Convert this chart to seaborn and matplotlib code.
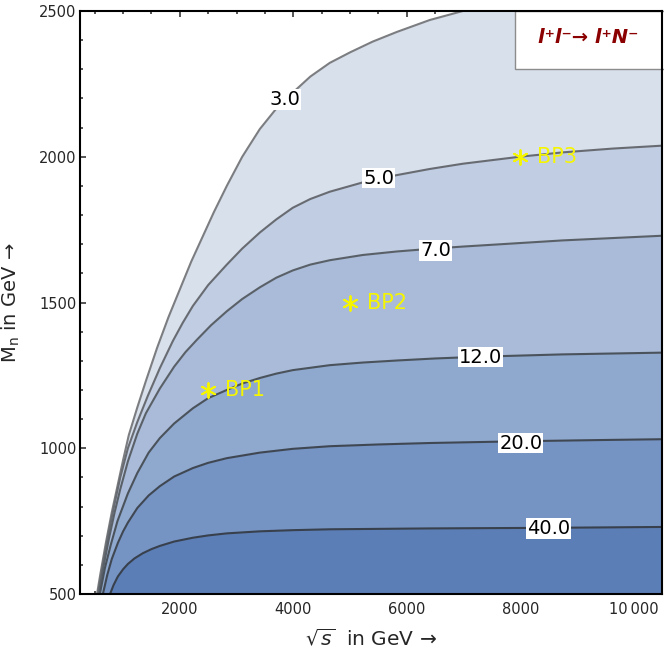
import matplotlib
matplotlib.use("Agg")
import matplotlib.pyplot as plt
from matplotlib.patches import Rectangle
from matplotlib.ticker import MultipleLocator, FixedLocator
import seaborn as sns

# contour levels and the curves (sqrt(s), M_n in GeV)
levels = [3.0, 5.0, 7.0, 12.0, 20.0, 40.0]

sqrt_s_3 = [540, 600, 700, 800, 900, 1000, 1100, 1250, 1400, 1600, 1800, 2000, 2200, 2400, 2600,
            2828, 3100, 3410, 3700, 3991, 4300, 4643, 5000, 5400, 5824, 6405, 6934, 8000, 10500]
mn_3 = [500, 570, 680, 780, 870, 960, 1045, 1140, 1230, 1345, 1450, 1545, 1640, 1725, 1810,
        1900, 2000, 2095, 2165, 2220, 2275, 2322, 2358, 2395, 2428, 2469, 2497, 2555, 2640]

sqrt_s_5 = [555, 650, 750, 850, 950, 1084, 1250, 1436, 1648, 1877, 2050, 2229, 2500, 2828, 3100,
            3410, 3700, 3991, 4300, 4643, 5225, 5824, 6405, 6987, 7991, 8749, 9630, 10500]
mn_5 = [500, 610, 715, 810, 900, 1000, 1090, 1180, 1275, 1368, 1430, 1488, 1560, 1630, 1685,
        1740, 1785, 1825, 1855, 1880, 1912, 1937, 1958, 1976, 2000, 2015, 2028, 2038]

sqrt_s_7 = [573, 650, 750, 850, 950, 1084, 1250, 1401, 1648, 1900, 2100, 2300, 2550, 2828, 3100,
            3410, 3700, 3991, 4300, 4643, 5225, 5824, 6405, 7000, 7586, 8749, 10500]
mn_7 = [500, 590, 690, 780, 860, 955, 1050, 1120, 1205, 1280, 1330, 1372, 1422, 1470, 1512,
        1552, 1585, 1610, 1630, 1645, 1663, 1675, 1684, 1692, 1699, 1713, 1729]

sqrt_s_12 = [590, 680, 784, 900, 1084, 1250, 1450, 1648, 1900, 2229, 2500, 2828, 3100, 3410,
             3700, 3991, 4643, 5224, 5824, 6500, 7286, 8749, 10500]
mn_12 = [500, 590, 670, 750, 845, 915, 985, 1035, 1085, 1137, 1172, 1200, 1222, 1241,
         1256, 1268, 1285, 1294, 1301, 1308, 1314, 1322, 1328]

sqrt_s_20 = [643, 720, 800, 907, 1000, 1084, 1250, 1450, 1648, 1900, 2229, 2500, 2828, 3410,
             3991, 4643, 5500, 6405, 7991, 9348, 10500]
mn_20 = [500, 565, 620, 675, 715, 745, 795, 838, 870, 903, 932, 950, 966, 985,
         998, 1007, 1013, 1018, 1024, 1028, 1031]

sqrt_s_40 = [770, 830, 907, 1000, 1084, 1200, 1348, 1500, 1648, 1900, 2229, 2500, 2828, 3410,
             3991, 4643, 6405, 8467, 10500]
mn_40 = [500, 530, 560, 585, 603, 622, 640, 654, 665, 680, 693, 701, 708, 715,
         719, 722, 725, 727, 730]

# where the contour labels sit
label_x = [3850, 5507, 6511, 7304, 8009, 8502]
label_y = [2195, 1927, 1680, 1313, 1018, 726]

# benchmark points
bp_names = ["BP1", "BP2", "BP3"]
bp_x = [2500, 5000, 8000]
bp_y = [1200, 1500, 2000]

x_ticks = [2000, 4000, 6000, 8000, 10000]
x_tick_labels = ["2000", "4000", "6000", "8000", "10\u2009000"]
y_ticks = [500, 1000, 1500, 2000, 2500]

band_colors = ["#d8e0ec", "#c0cde2", "#a9bbd8", "#8fa8cd", "#7593c3", "#5c7eb6"]
line_colors = ["#7b7d80", "#686c72", "#5a6068", "#4a525c", "#3f4753", "#37404c"]

sns.set_style("ticks")
plt.rcParams['font.family'] = ['DejaVu Sans']

fig = plt.figure(figsize=(6.64, 6.62), dpi=100)
ax = fig.add_axes([0.1205, 0.1027, 0.8765, 0.8807])

curves = [(sqrt_s_3, mn_3), (sqrt_s_5, mn_5), (sqrt_s_7, mn_7),
          (sqrt_s_12, mn_12), (sqrt_s_20, mn_20), (sqrt_s_40, mn_40)]

for (xs, ys), fc in zip(curves, band_colors):
    ax.fill_between(xs, 500, ys, color=fc, lw=0, zorder=1)

for (xs, ys), lc in zip(curves, line_colors):
    sns.lineplot(x=xs, y=ys, ax=ax, color=lc, lw=1.5, sort=False, zorder=2)

for lev, lx, ly in zip(levels, label_x, label_y):
    ax.text(lx, ly, f"{lev:.1f}", ha="center", va="center", fontsize=14, color="black",
            bbox=dict(facecolor="white", edgecolor="none", boxstyle="square,pad=0.05"), zorder=3)

sns.scatterplot(x=bp_x, y=bp_y, ax=ax, marker=(6, 2, 0), s=110, color="#f5f500",
                linewidth=1.4, zorder=4)
for name, bx, by in zip(bp_names, bp_x, bp_y):
    ax.annotate(name, (bx, by), xytext=(12, 0), textcoords="offset points",
                va="center", ha="left", color="#f5f500", fontsize=15, zorder=4)

# process box in the top right corner
ax.add_patch(Rectangle((0.747, 0.9005), 0.26, 0.0995, transform=ax.transAxes,
                       facecolor="white", edgecolor="#8c8c8c", lw=1, clip_on=False, zorder=2.3))
ax.text(0.873, 0.954, "l\u207al\u207b\u2192 l\u207aN\u207b", transform=ax.transAxes,
        ha="center", va="center", color="#8b0000", fontsize=14, fontweight="bold",
        style="italic", zorder=5)

ax.set_xlim(240, 10500)
ax.set_ylim(500, 2500)
ax.xaxis.set_major_locator(FixedLocator(x_ticks))
ax.set_xticklabels(x_tick_labels)
ax.xaxis.set_minor_locator(MultipleLocator(500))
ax.yaxis.set_major_locator(FixedLocator(y_ticks))
ax.yaxis.set_minor_locator(MultipleLocator(100))
ax.tick_params(which="both", direction="in", top=True, right=True, width=1.1, labelsize=10.5)
ax.tick_params(which="major", length=4.5)
ax.tick_params(which="minor", length=2.5)
ax.tick_params(axis="x", pad=6)
ax.tick_params(axis="y", pad=2.5)
for sp in ax.spines.values():
    sp.set_linewidth(1.5)
    sp.set_color("black")

ax.set_xlabel(r"$\sqrt{s}$  in GeV →", fontsize=14.5)
ax.set_ylabel(r"M$_\mathrm{n}$ in GeV →", fontsize=14)
ax.xaxis.set_label_coords(0.5, -0.058)
ax.yaxis.set_label_coords(-0.10, 0.5)

fig.savefig("out.png", dpi=100)
